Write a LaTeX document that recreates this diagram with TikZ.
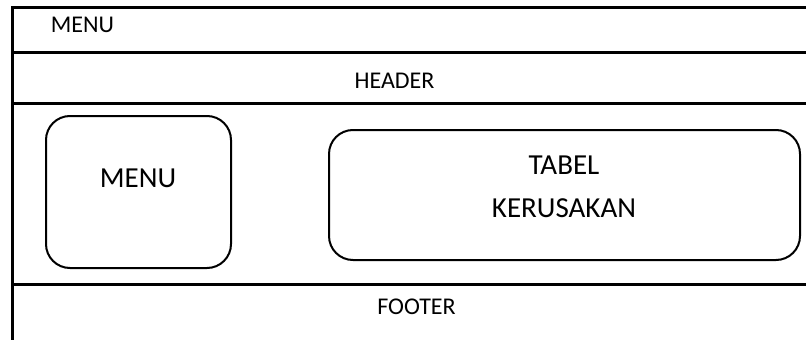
\documentclass[tikz,border=0pt]{standalone}
\usepackage{fontspec}
\setmainfont{Carlito}
\tikzset{
  rule/.style={line width=3.5pt},
  panel/.style={draw, line width=2pt, rounded corners=24pt, inner sep=0pt},
  small/.style={inner sep=0pt, font=\fontsize{24}{28}\selectfont},
  big/.style={inner sep=0pt, align=center, font=\fontsize{29}{43}\selectfont},
}
\begin{document}
\begin{tikzpicture}[x=1pt,y=-1pt]
				\useasboundingbox (0,0) rectangle (806,340);
				% Frame
				\draw[line width=2.5pt] (12.3,340) -- (12.3,7.3) -- (806,7.3);
				\draw[rule] (12.3,52.5) -- (806,52.5);
				\draw[rule] (12.3,103.5) -- (806,103.5);
				\draw[rule] (12.3,284.5) -- (806,284.5);
				% Rows
				\node[small] (topmenu) at (82.5,24.5) {MENU};
				\node[small] (header) at (394.5,81) {HEADER};
				\node[small] (footer) at (416.5,307) {FOOTER};
				% Panels
				\node[panel, minimum width=185pt, minimum height=152pt] (menubox) at (138.5,192) {};
				\node[big] (menu) at (138,178) {MENU};
				\node[panel, minimum width=471pt, minimum height=130pt] (tabelbox) at (564.5,195) {};
				\node[big] (tabel) at (564,186.5) {TABEL\\KERUSAKAN};
			\end{tikzpicture}
\end{document}
